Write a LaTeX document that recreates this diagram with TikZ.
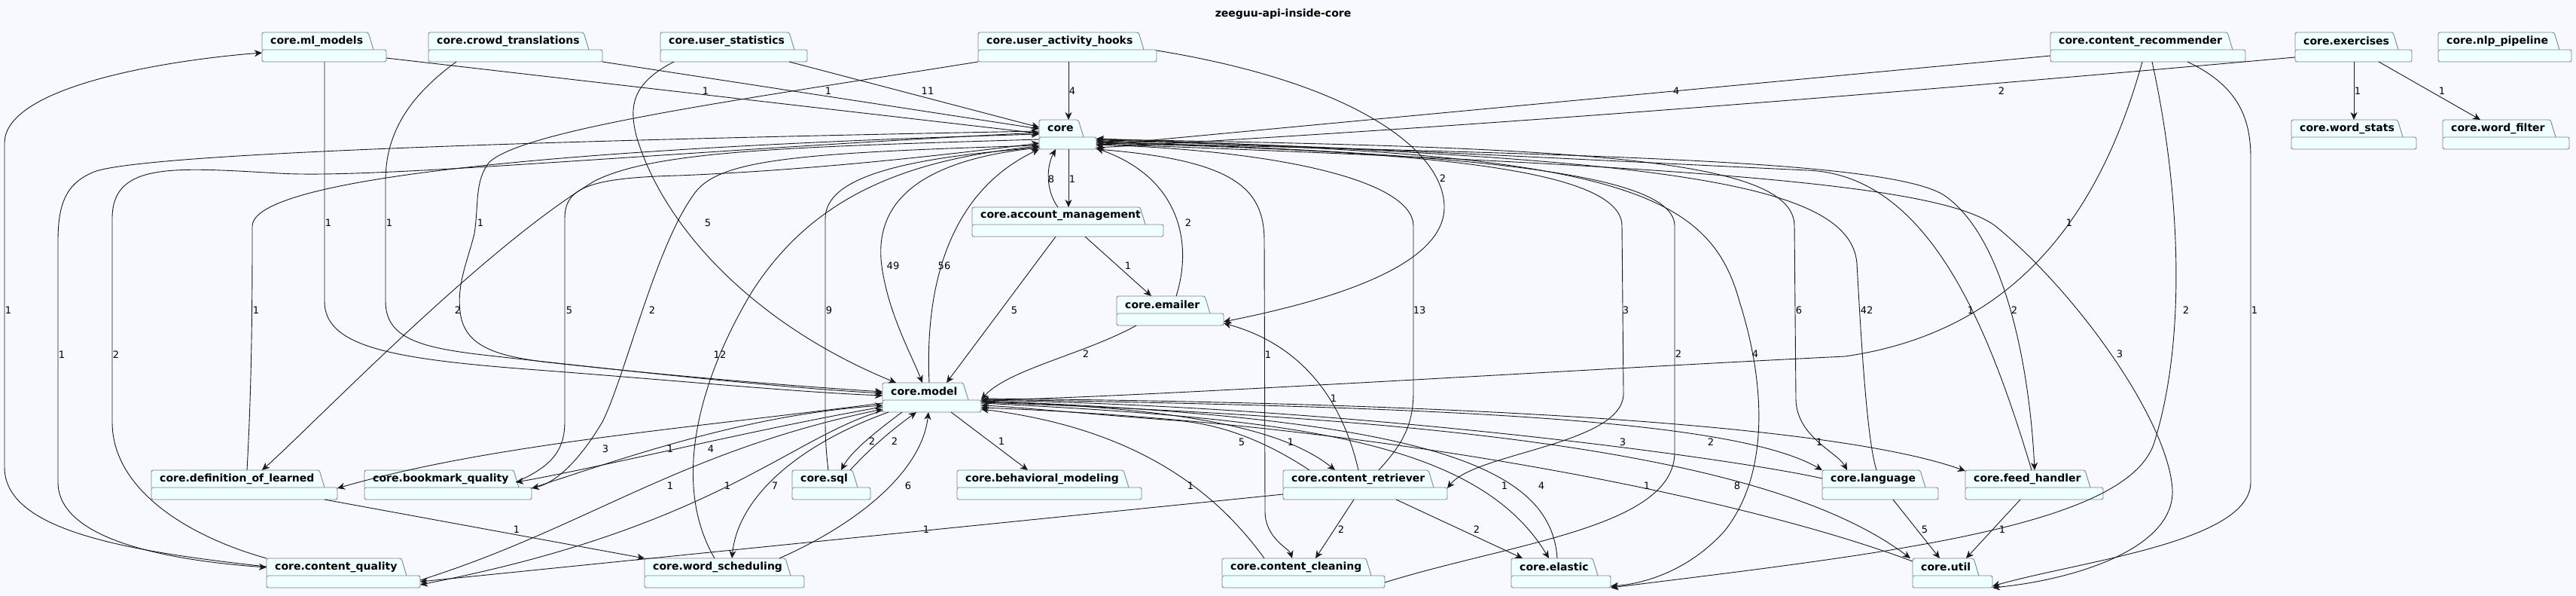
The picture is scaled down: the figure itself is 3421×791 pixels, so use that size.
\documentclass[tikz,border=0pt]{standalone}
\usepackage{fontspec}
\setmainfont{DejaVu Sans}
\usetikzlibrary{arrows.meta,calc}
\definecolor{bgc}{RGB}{248,249,254}
\definecolor{pkgfill}{RGB}{240,255,255}
\definecolor{pkgline}{RGB}{124,132,132}
\definecolor{edgec}{RGB}{24,24,24}
\tikzset{
 pkgnode/.style={draw=none, inner sep=0, outer sep=0, minimum height=39, anchor=north west},
 pkgshape/.style={draw=pkgline, fill=pkgfill, line width=0.9pt, rounded corners=2.5pt},
 pkgtext/.style={font=\fontsize{14}{16}\selectfont\bfseries, inner sep=0, anchor=west, text=black},
 dep/.style={draw=edgec, line width=0.9pt, -{Stealth[length=10pt,width=9pt,inset=3pt]}},
 lbl/.style={font=\fontsize{13}{15}\selectfont, inner sep=0, text=black},
 ttl/.style={font=\fontsize{14}{16}\selectfont\bfseries, inner sep=0},
}
\newcommand{\Pkg}[6]{%
  \node[pkgnode, minimum width=#4] (#1) at (#2,#3) {};
  \draw[pkgshape] (#2,#3+23) -- (#2,#3) -- (#2+#5-7,#3) -- (#2+#5,#3+23);
  \draw[pkgshape] (#2,#3+23) rectangle (#2+#4,#3+39);
  \node[pkgtext] (#1-name) at (#2+11,#3+11.5) {#6};
}
\begin{document}
\begin{tikzpicture}[x=1pt,y=-1pt]
\useasboundingbox (0,0) rectangle (3421,791);
\fill[bgc] (0,0) rectangle (3421,791);
\node[ttl] (title) at (1704,19) {zeeguu-api-inside-core};
% packages
\Pkg{ml}{348}{43}{165}{148}{core.ml\_models}
\Pkg{crowd}{569}{43}{231}{213}{core.crowd\_translations}
\Pkg{ustats}{877}{43}{195}{178}{core.user\_statistics}
\Pkg{hooks}{1299}{43}{237}{220}{core.user\_activity\_hooks}
\Pkg{crec}{2723}{43}{259}{242}{core.content\_recommender}
\Pkg{ex}{3048}{43}{155}{137}{core.exercises}
\Pkg{nlp}{3238}{43}{177}{161}{core.nlp\_pipeline}
\Pkg{core}{1380}{159}{76}{59}{core}
\Pkg{wstats}{3043}{159}{166}{148}{core.word\_stats}
\Pkg{wfilter}{3244}{159}{168}{150}{core.word\_filter}
\Pkg{acct}{1291}{275}{254}{230}{core.account\_management}
\Pkg{emailer}{1483}{393}{142}{124}{core.emailer}
\Pkg{model}{1172}{508}{131}{114}{core.model}
\Pkg{def}{201}{624}{247}{230}{core.definition\_of\_learned}
\Pkg{bq}{484}{624}{222}{205}{core.bookmark\_quality}
\Pkg{sql}{1052}{624}{104}{87}{core.sql}
\Pkg{beh}{1271}{624}{245}{228}{core.behavioral\_modeling}
\Pkg{cret}{1704}{624}{218}{200}{core.content\_retriever}
\Pkg{lang}{2420}{624}{154}{137}{core.language}
\Pkg{feed}{2610}{624}{183}{166}{core.feed\_handler}
\Pkg{cq}{354}{741}{204}{186}{core.content\_quality}
\Pkg{ws}{856}{741}{212}{194}{core.word\_scheduling}
\Pkg{cc}{1623}{741}{216}{198}{core.content\_cleaning}
\Pkg{el}{2007}{741}{132}{115}{core.elastic}
\Pkg{util}{2540}{741}{106}{88}{core.util}
% edges
\draw[dep] ($(ml.north west)+(165,34)$) -- ($(core.north west)+(0,18)$);
\draw[dep] ($(crowd.north west)+(231,39)$) -- ($(core.north west)+(0,12)$);
\draw[dep] ($(ustats.north west)+(171,39)$) -- ($(core.north west)+(0,10)$);
\draw[dep] ($(hooks.north west)+(120,39)$) -- ($(core.north west)+(39,0)$);
\draw[dep] ($(crec.north west)+(0,31)$) -- ($(core.north west)+(76,34)$);
\draw[dep] ($(ex.north west)+(0,33)$) .. controls (2700,107) and (2100,160) .. ($(core.north west)+(76,37)$);
\draw[dep] ($(core.north west)+(39,39)$) -- ($(acct.north west)+(128,0)$);
\draw[dep] ($(acct.north west)+(114,0)$) .. controls (1388,252) and (1390,220) .. ($(core.north west)+(22,39)$);
\draw[dep] ($(acct.north west)+(111,39)$) -- ($(model.north west)+(85,0)$);
\draw[dep] ($(acct.north west)+(150,39)$) -- ($(emailer.north west)+(46,0)$);
\draw[dep] ($(emailer.north west)+(79,0)$) .. controls (1585,320) and (1565,235) .. ($(core.north west)+(76,38)$);
\draw[dep] ($(emailer.north west)+(26,39)$) .. controls (1440,470) and (1340,490) .. ($(model.north west)+(131,22)$);
\draw[dep] ($(hooks.north west)+(237,24)$) .. controls (1800,110) and (1918,200) .. (1918,275) .. controls (1918,355) and (1760,400) .. ($(emailer.north west)+(142,34)$);
\draw[dep] ($(cret.north west)+(100,0)$) .. controls (1780,520) and (1720,455) .. ($(emailer.north west)+(142,36)$);
\draw[dep] ($(core.north west)+(0,37)$) .. controls (1190,215) and (1160,290) .. (1172,360) .. controls (1182,420) and (1210,470) .. ($(model.north west)+(53,0)$);
\draw[dep] ($(model.north west)+(62,0)$) .. controls (1228,380) and (1260,255) .. ($(core.north west)+(0,39)$);
\draw[dep] ($(core.north west)+(76,39)$) .. controls (1640,212) and (1679,250) .. (1679,320) -- (1680,680) .. controls (1681,715) and (1712,728) .. ($(cc.north west)+(93,0)$);
\draw[dep] ($(cret.north west)+(127,0)$) .. controls (1862,590) and (1877,565) .. (1877,520) -- (1877,300) .. controls (1877,240) and (1700,200) .. ($(core.north west)+(76,33)$);
\draw[dep] ($(core.north west)+(76,31)$) .. controls (1900,200) and (2154,225) .. (2154,300) -- (2156,520) .. controls (2160,590) and (1960,600) .. ($(cret.north west)+(218,24)$);
\draw[dep] ($(cc.north west)+(216,32)$) .. controls (2010,720) and (2224,700) .. (2224,600) -- (2224,300) .. controls (2224,235) and (2000,205) .. ($(core.north west)+(76,29)$);
\draw[dep] ($(core.north west)+(76,28)$) .. controls (2150,200) and (2270,255) .. (2310,400) .. controls (2345,510) and (2350,630) .. (2290,705) .. controls (2240,760) and (2180,775) .. ($(el.north west)+(132,37)$);
\draw[dep] ($(crec.north west)+(135,39)$) .. controls (2895,250) and (2905,450) .. (2860,590) .. controls (2820,700) and (2500,735) .. ($(el.north west)+(132,39)$);
\draw[dep] ($(core.north west)+(76,26)$) .. controls (2100,195) and (2383,210) .. (2383,300) -- (2385,530) .. controls (2386,580) and (2440,600) .. ($(lang.north west)+(33,0)$);
\draw[dep] ($(lang.north west)+(72,0)$) .. controls (2478,580) and (2470,420) .. (2466,350) .. controls (2458,240) and (2200,210) .. ($(core.north west)+(76,25)$);
\draw[dep] ($(feed.north west)+(88,0)$) .. controls (2640,430) and (2560,232) .. (2400,226) .. controls (2100,212) and (1700,190) .. ($(core.north west)+(76,27)$);
\draw[dep] ($(core.north west)+(76,30)$) .. controls (2100,205) and (2500,212) .. (2580,258) .. controls (2660,310) and (2695,480) .. ($(feed.north west)+(92,0)$);
\draw[dep] ($(core.north west)+(76,32)$) .. controls (2300,222) and (2580,248) .. (2650,300) .. controls (2760,390) and (2880,560) .. (2885,650) .. controls (2888,730) and (2750,770) .. ($(util.north west)+(106,39)$);
\draw[dep] ($(crec.north west)+(182,39)$) .. controls (2975,115) and (2989,160) .. (2989,210) -- (2989,640) .. controls (2989,720) and (2760,745) .. ($(util.north west)+(106,37)$);
\draw[dep] ($(crec.north west)+(122,39)$) .. controls (2790,280) and (2680,440) .. (2450,473) .. controls (2100,490) and (1500,528) .. ($(model.north west)+(131,23)$);
\draw[dep] ($(model.north west)+(131,25)$) .. controls (1550,540) and (1700,565) .. ($(cret.north west)+(69,0)$);
\draw[dep] ($(cret.north west)+(35,0)$) .. controls (1680,585) and (1620,562) .. (1560,558) .. controls (1450,550) and (1350,540) .. ($(model.north west)+(131,30)$);
\draw[dep] ($(cc.north west)+(56,0)$) .. controls (1620,660) and (1520,570) .. ($(model.north west)+(131,35)$);
\draw[dep] ($(model.north west)+(131,27)$) .. controls (1700,555) and (1960,580) .. ($(el.north west)+(50,0)$);
\draw[dep] ($(el.north west)+(61,0)$) .. controls (2060,620) and (1900,555) .. ($(model.north west)+(131,24)$);
\draw[dep] ($(lang.north west)+(0,11)$) .. controls (2300,608) and (1800,540) .. ($(model.north west)+(131,23)$);
\draw[dep] ($(model.north west)+(131,22)$) .. controls (1900,540) and (2300,555) .. ($(lang.north west)+(0,0)$);
\draw[dep] ($(model.north west)+(131,21)$) .. controls (2000,535) and (2450,568) .. ($(feed.north west)+(0,1)$);
\draw[dep] ($(model.north west)+(131,26)$) .. controls (1900,555) and (2350,600) .. ($(util.north west)+(-3,0)$);
\draw[dep] ($(util.north west)+(0,4)$) .. controls (2300,655) and (1800,560) .. ($(model.north west)+(131,33)$);
\draw[dep] ($(lang.north west)+(94,39)$) -- ($(util.north west)+(36,0)$);
\draw[dep] ($(feed.north west)+(73,39)$) -- ($(util.north west)+(71,0)$);
\draw[dep] ($(model.north west)+(91,39)$) -- ($(beh.north west)+(94,0)$);
\draw[dep] ($(model.north west)+(26,39)$) .. controls (1160,575) and (1130,600) .. ($(sql.north west)+(65,0)$);
\draw[dep] ($(sql.north west)+(77,0)$) .. controls (1160,590) and (1192,565) .. ($(model.north west)+(45,39)$);
\draw[dep] ($(ws.north west)+(179,0)$) .. controls (1150,690) and (1225,620) .. ($(model.north west)+(61,39)$);
\draw[dep] ($(model.north west)+(8,39)$) .. controls (1060,590) and (980,660) .. ($(ws.north west)+(116,0)$);
\draw[dep] ($(sql.north west)+(48,0)$) .. controls (1097,600) and (1096,580) .. (1096,560) -- (1096,290) .. controls (1096,235) and (1200,210) .. ($(core.north west)+(0,37)$);
\draw[dep] ($(ws.north west)+(93,0)$) .. controls (890,640) and (930,500) .. (1000,385) .. controls (1080,262) and (1200,212) .. ($(core.north west)+(0,35)$);
\draw[dep] ($(core.north west)+(0,26)$) .. controls (1050,195) and (870,200) .. (790,240) .. controls (640,330) and (420,560) .. ($(def.north west)+(147,0)$);
\draw[dep] ($(def.north west)+(127,0)$) .. controls (335,500) and (335,380) .. (335,300) .. controls (337,225) and (900,192) .. ($(core.north west)+(0,19)$);
\draw[dep] ($(cq.north west)+(0,0)$) .. controls (250,712) and (149,650) .. (149,560) -- (149,290) .. controls (149,215) and (230,222) .. (370,230) .. controls (500,238) and (900,200) .. ($(core.north west)+(0,17)$);
\draw[dep] ($(core.north west)+(0,15)$) .. controls (900,183) and (200,200) .. (125,228) .. controls (88,243) and (77,270) .. (77,320) -- (77,640) .. controls (77,710) and (200,742) .. ($(cq.north west)+(0,12)$);
\draw[dep] ($(cq.north west)+(0,11)$) .. controls (150,730) and (6,700) .. (6,620) -- (6,190) .. controls (6,115) and (220,80) .. ($(ml.north west)+(0,27)$);
\draw[dep] ($(core.north west)+(0,34)$) .. controls (1050,203) and (950,212) .. (920,260) .. controls (870,330) and (830,500) .. (800,560) .. controls (770,610) and (740,640) .. ($(bq.north west)+(222,24)$);
\draw[dep] ($(bq.north west)+(201,16)$) .. controls (730,620) and (750,600) .. (750,560) -- (750,290) .. controls (750,250) and (780,236) .. (901,233) .. controls (1100,225) and (1300,200) .. ($(core.north west)+(0,31)$);
\draw[dep] ($(model.north west)+(0,32)$) .. controls (1000,570) and (800,620) .. ($(bq.north west)+(201,16)$);
\draw[dep] ($(bq.north west)+(222,24)$) .. controls (850,600) and (1000,550) .. ($(model.north west)+(0,30)$);
\draw[dep] ($(model.north west)+(0,27)$) .. controls (900,570) and (650,590) .. ($(def.north west)+(247,24)$);
\draw[dep] ($(cq.north west)+(204,29)$) .. controls (780,700) and (900,600) .. ($(model.north west)+(0,35)$);
\draw[dep] ($(model.north west)+(0,37)$) .. controls (1050,580) and (950,700) .. ($(cq.north west)+(204,35)$);
\draw[dep] ($(cret.north west)+(0,32)$) -- ($(cq.north west)+(204,31)$);
\draw[dep] ($(def.north west)+(230,39)$) -- ($(ws.north west)+(0,0)$);
\draw[dep] ($(cret.north west)+(94,39)$) -- ($(cc.north west)+(124,0)$);
\draw[dep] ($(cret.north west)+(150,39)$) -- ($(el.north west)+(15,0)$);
\draw[dep] ($(ml.north west)+(83,39)$) -- (431,400) .. controls (431,460) and (520,476) .. (700,490) .. controls (900,505) and (1050,520) .. ($(model.north west)+(0,17)$);
\draw[dep] ($(crowd.north west)+(37,39)$) .. controls (540,130) and (512,180) .. (512,240) -- (512,400) .. controls (512,450) and (560,462) .. (650,472) .. controls (900,500) and (1050,515) .. ($(model.north west)+(0,14)$);
\draw[dep] ($(hooks.north west)+(0,39)$) .. controls (1000,130) and (700,170) .. (650,215) .. controls (630,240) and (636,270) .. (630,310) .. controls (620,350) and (605,380) .. (612,420) .. controls (620,460) and (660,472) .. (720,480) .. controls (900,500) and (1050,512) .. ($(model.north west)+(0,12)$);
\draw[dep] ($(ustats.north west)+(18,39)$) .. controls (840,110) and (835,140) .. (845,180) .. controls (880,300) and (1000,430) .. ($(model.north west)+(18,0)$);
\draw[dep] ($(ex.north west)+(78,39)$) -- ($(wstats.north west)+(83,0)$);
\draw[dep] ($(ex.north west)+(111,39)$) -- ($(wfilter.north west)+(50,0)$);
% labels
\node[lbl] (lb01) at (937,121) {1};
\node[lbl] (lb02) at (1100,121) {1};
\node[lbl] (lb03) at (1232,121) {11};
\node[lbl] (lb04) at (1424,121) {4};
\node[lbl] (lb05) at (2226,121) {4};
\node[lbl] (lb06) at (2658,121) {2};
\node[lbl] (lb07) at (3131,121) {1};
\node[lbl] (lb08) at (3243,121) {1};
\node[lbl] (lb09) at (1396,238) {8};
\node[lbl] (lb10) at (1424,238) {1};
\node[lbl] (lb11) at (1916,237) {2};
\node[lbl] (lb12) at (436,296) {1};
\node[lbl] (lb13) at (517,296) {1};
\node[lbl] (lb14) at (638,296) {1};
\node[lbl] (lb15) at (940,296) {5};
\node[lbl] (lb16) at (1578,296) {2};
\node[lbl] (lb17) at (2748,296) {1};
\node[lbl] (lb18) at (1186,353) {49};
\node[lbl] (lb19) at (1254,353) {56};
\node[lbl] (lb20) at (1498,353) {1};
\node[lbl] (lb21) at (11,412) {1};
\node[lbl] (lb22) at (340,412) {1};
\node[lbl] (lb23) at (608,412) {2};
\node[lbl] (lb24) at (756,412) {5};
\node[lbl] (lb25) at (866,412) {2};
\node[lbl] (lb26) at (1101,412) {9};
\node[lbl] (lb27) at (1347,412) {5};
\node[lbl] (lb28) at (1885,412) {13};
\node[lbl] (lb29) at (2159,412) {3};
\node[lbl] (lb30) at (2389,412) {6};
\node[lbl] (lb31) at (2479,412) {42};
\node[lbl] (lb32) at (2617,412) {1};
\node[lbl] (lb33) at (2675,412) {2};
\node[lbl] (lb34) at (2903,412) {2};
\node[lbl] (lb35) at (2994,412) {1};
\node[lbl] (lb36) at (82,471) {1};
\node[lbl] (lb37) at (154,471) {2};
\node[lbl] (lb38) at (956,471) {12};
\node[lbl] (lb39) at (1442,470) {2};
\node[lbl] (lb40) at (1684,471) {1};
\node[lbl] (lb41) at (2229,470) {2};
\node[lbl] (lb42) at (2331,470) {4};
\node[lbl] (lb43) at (2815,470) {3};
\node[lbl] (lb44) at (1771,529) {1};
\node[lbl] (lb45) at (804,596) {3};
\node[lbl] (lb46) at (890,596) {1};
\node[lbl] (lb47) at (944,596) {4};
\node[lbl] (lb48) at (1158,586) {2};
\node[lbl] (lb49) at (1188,586) {2};
\node[lbl] (lb50) at (1330,586) {1};
\node[lbl] (lb51) at (1649,587) {5};
\node[lbl] (lb52) at (1714,587) {1};
\node[lbl] (lb53) at (2155,587) {3};
\node[lbl] (lb54) at (2272,587) {2};
\node[lbl] (lb55) at (2416,587) {1};
\node[lbl] (lb56) at (890,645) {1};
\node[lbl] (lb57) at (966,645) {1};
\node[lbl] (lb58) at (1029,645) {7};
\node[lbl] (lb59) at (1206,645) {6};
\node[lbl] (lb60) at (1581,645) {1};
\node[lbl] (lb61) at (1998,645) {1};
\node[lbl] (lb62) at (2047,645) {4};
\node[lbl] (lb63) at (2187,645) {1};
\node[lbl] (lb64) at (2307,645) {8};
\node[lbl] (lb65) at (686,703) {1};
\node[lbl] (lb66) at (1230,703) {1};
\node[lbl] (lb67) at (1781,703) {2};
\node[lbl] (lb68) at (1961,703) {2};
\node[lbl] (lb69) at (2556,703) {5};
\node[lbl] (lb70) at (2659,703) {1};
\end{tikzpicture}
\end{document}
